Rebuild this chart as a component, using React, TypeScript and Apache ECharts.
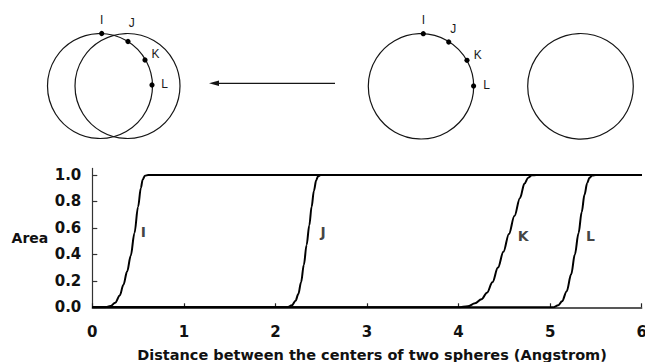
import React, { useEffect, useRef } from "react";
import * as echarts from "echarts";

const xTicks = [0, 1, 2, 3, 4, 5, 6];
const yTicks = [0, 0.2, 0.4, 0.6, 0.8, 1.0];

const curveNames = ["I", "J", "K", "L"];
const curveI = [[0, 0], [0.14, 0], [0.2, 0.01], [0.25, 0.035], [0.3, 0.09], [0.34, 0.17], [0.38, 0.27], [0.42, 0.39], [0.46, 0.56], [0.5, 0.76], [0.53, 0.9], [0.55, 0.965], [0.575, 0.995], [0.61, 1], [6, 1]];
const curveJ = [[0, 0], [2.13, 0], [2.18, 0.015], [2.22, 0.05], [2.25, 0.1], [2.28, 0.19], [2.31, 0.32], [2.34, 0.47], [2.37, 0.62], [2.395, 0.76], [2.42, 0.88], [2.445, 0.96], [2.465, 0.99], [2.495, 1], [6, 1]];
const curveK = [[0, 0], [4.0, 0], [4.1, 0.008], [4.18, 0.03], [4.25, 0.06], [4.31, 0.11], [4.37, 0.19], [4.43, 0.3], [4.49, 0.42], [4.55, 0.555], [4.61, 0.69], [4.67, 0.825], [4.72, 0.935], [4.76, 0.98], [4.8, 0.998], [4.85, 1], [6, 1]];
const curveL = [[0, 0], [5.03, 0], [5.09, 0.015], [5.13, 0.045], [5.18, 0.12], [5.23, 0.25], [5.27, 0.4], [5.31, 0.56], [5.345, 0.72], [5.375, 0.85], [5.405, 0.94], [5.43, 0.98], [5.46, 0.997], [5.5, 1], [6, 1]];
const curves = [curveI, curveJ, curveK, curveL];

const labelX = [0.557, 2.52, 4.705, 5.44];
const labelY = [0.57, 0.57, 0.54, 0.54];

const xName = "Distance between the centers of two spheres (Angstrom)";
const yName = "Area";

const FONT = "DejaVu Sans";

export default function App() {
  const ref = useRef<HTMLDivElement>(null);
  useEffect(() => {
    if (!ref.current) return;
    const chart = echarts.init(ref.current, undefined, { renderer: "svg" });
    const stroke = "#151515";
    const circle = (cx: number, cy: number, r: number) => ({
      type: "circle",
      shape: { cx, cy, r },
      style: { fill: "none", stroke, lineWidth: 1.2 },
      silent: true,
    });
    const dot = (cx: number, cy: number) => ({
      type: "circle",
      shape: { cx, cy, r: 2.6 },
      style: { fill: "#000", stroke: "none" },
      silent: true,
    });
    const txt = (x: number, y: number, t: string) => ({
      type: "text",
      x,
      y,
      style: {
        text: t,
        fill: "#1a1a1a",
        font: "12px 'Liberation Sans', Arial, sans-serif",
        align: "center",
        verticalAlign: "middle",
      },
      silent: true,
    });
    const graphics: any[] = [
      circle(100, 86, 52.5),
      circle(127.5, 86, 52.5),
      dot(101.7, 33.5),
      dot(128, 41.5),
      dot(145, 60),
      dot(152, 85),
      txt(101.7, 20, "I"),
      txt(131.7, 23, "J"),
      txt(155.5, 53.5, "K"),
      txt(164.5, 83.5, "L"),
      {
        type: "line",
        shape: { x1: 335, y1: 83.3, x2: 214, y2: 83.3 },
        style: { stroke, lineWidth: 1.2 },
        silent: true,
      },
      {
        type: "polygon",
        shape: { points: [[209, 83.3], [219, 80.6], [219, 86]] },
        style: { fill: stroke, stroke: "none" },
        silent: true,
      },
      circle(421, 86.3, 52.7),
      dot(423.3, 33.7),
      dot(448.7, 42),
      dot(467, 60.3),
      dot(473.6, 86),
      txt(423.3, 20, "I"),
      txt(453.3, 29, "J"),
      txt(477.7, 55, "K"),
      txt(486.7, 85, "L"),
      circle(580.5, 86.3, 52.8),
    ];

    const series: any[] = curves.map((c, i) => ({
      type: "line",
      name: curveNames[i],
      data: c,
      showSymbol: false,
      smooth: 0.35,
      smoothMonotone: "x",
      lineStyle: { color: "#000", width: 2 },
      z: 3,
    }));
    series.push({
      type: "scatter",
      data: labelX.map((x, i) => [x, labelY[i], curveNames[i]]),
      symbolSize: 0,
      label: {
        show: true,
        position: "inside",
        formatter: (p: any) => p.data[2],
        color: "#111",
        fontFamily: FONT,
        fontWeight: "bold",
        fontSize: 14,
      },
      silent: true,
    });

    chart.setOption({
      animation: false,
      backgroundColor: "#fff",
      grid: { left: 92.3, right: 3.3, top: 168.4, bottom: 54.7, containLabel: false, outerBoundsMode: "none" },
      xAxis: {
        type: "value",
        min: 0,
        max: 6,
        interval: 1,
        name: xName,
        nameLocation: "middle",
        nameGap: 40,
        nameTextStyle: { fontFamily: FONT, fontWeight: "bold", fontSize: 14.5, color: "#111", padding: [0, 0, 0, 10] },
        axisLine: { show: true, lineStyle: { color: "#222", width: 1.5 } },
        axisTick: { show: true, inside: true, length: 4, lineStyle: { color: "#222", width: 1.2 } },
        axisLabel: {
          fontFamily: FONT,
          fontWeight: "bold",
          fontSize: 15,
          color: "#111",
          margin: 17,
          formatter: (v: number) => (xTicks.includes(v) ? String(v) : ""),
        },
        splitLine: { show: false },
      },
      yAxis: {
        type: "value",
        min: 0,
        max: 1.05,
        interval: 0.2,
        name: yName,
        nameLocation: "middle",
        nameRotate: 0,
        nameGap: 44,
        nameTextStyle: { fontFamily: FONT, fontWeight: "bold", fontSize: 14, color: "#111", align: "right" },
        axisLine: { show: true, lineStyle: { color: "#333", width: 1.2 } },
        axisTick: { show: true, inside: true, length: 5, customValues: yTicks, lineStyle: { color: "#333", width: 1.2 } },
        axisLabel: {
          fontFamily: FONT,
          fontWeight: "bold",
          fontSize: 15,
          color: "#111",
          margin: 11,
          customValues: yTicks,
          formatter: (v: number) => v.toFixed(1),
        },
        splitLine: { show: false },
      },
      graphic: graphics,
      series,
    });
    return () => chart.dispose();
  }, []);
  return <div ref={ref} style={{ position: "absolute", left: 0, top: 0, width: 645, height: 362 }} />;
}
